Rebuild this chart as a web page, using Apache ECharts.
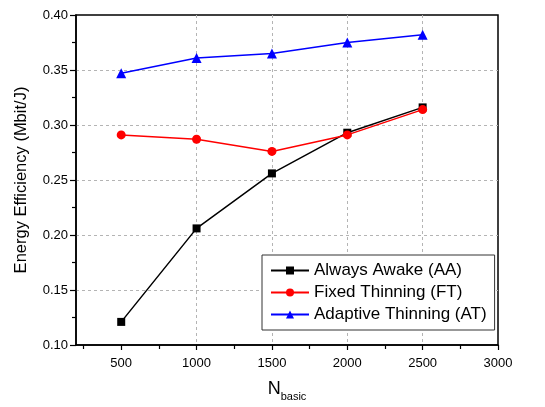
<!DOCTYPE html>
<html>
<head>
<meta charset="utf-8">
<script src="https://cdn.jsdelivr.net/npm/echarts@6/dist/echarts.min.js"></script>
<style>html,body{margin:0;padding:0;background:#fff}#c{width:545px;height:407px}</style>
</head>
<body>
<div id="c"></div>
<script>
const nBasic = [500, 1000, 1500, 2000, 2500];
const alwaysAwake = [0.121, 0.206, 0.256, 0.293, 0.316];
const fixedThinning = [0.291, 0.287, 0.276, 0.291, 0.314];
const adaptiveThinning = [0.347, 0.361, 0.365, 0.375, 0.382];
const xMajorTicks = [500, 1000, 1500, 2000, 2500, 3000];
const xMinorTicks = [250, 750, 1250, 1750, 2250, 2750];
const seriesNames = ['Always Awake (AA)', 'Fixed Thinning (FT)', 'Adaptive Thinning (AT)'];

const font = 'Arial, "Liberation Sans", sans-serif';
const chart = echarts.init(document.getElementById('c'), null, {renderer: 'canvas'});
function pairs(vals) { return nBasic.map((x, i) => [x, vals[i]]); }

chart.setOption({
  animation: false,
  backgroundColor: '#fff',
  textStyle: {fontFamily: font},
  grid: {left: 76, right: 47, top: 15, bottom: 62, show: true, borderColor: '#000', borderWidth: 1.5, backgroundColor: 'transparent'},
  legend: {
    orient: 'vertical', left: 262, top: 255,
    itemWidth: 38, itemHeight: 10, itemGap: 5,
    padding: [7, 8, 7, 8],
    borderColor: '#333', borderWidth: 1, borderRadius: 0,
    backgroundColor: '#fff',
    textStyle: {fontSize: 17, color: '#000', fontFamily: font},
    data: seriesNames
  },
  xAxis: [{
    type: 'value', min: 200, max: 3000,
    name: '{n|N}{s|basic}', nameLocation: 'middle', nameGap: 32,
    nameTextStyle: {rich: {n: {fontSize: 18, color: '#000', fontFamily: font}, s: {fontSize: 11, color: '#000', fontFamily: font, padding: [14, 0, 0, 0]}}},
    axisLine: {show: true, lineStyle: {color: '#000', width: 1.5}},
    axisTick: {show: true, customValues: xMajorTicks, length: 5, lineStyle: {color: '#000', width: 1.2}},
    axisLabel: {customValues: xMajorTicks, fontSize: 13, color: '#000', margin: 12, fontFamily: font, formatter: v => String(v)},
    splitLine: {show: true, showMinLine: false, showMaxLine: false, lineStyle: {color: '#b4b4b4', type: [3, 3], width: 1}}
  }, {
    type: 'value', min: 200, max: 3000, position: 'bottom',
    axisLine: {show: false},
    axisTick: {show: true, customValues: xMinorTicks, length: 4, lineStyle: {color: '#000', width: 1.2}},
    axisLabel: {show: false},
    splitLine: {show: false}
  }],
  yAxis: {
    type: 'value', min: 0.1, max: 0.4, interval: 0.05,
    name: 'Energy Efficiency (Mbit/J)', nameLocation: 'middle', nameGap: 46,
    nameTextStyle: {fontSize: 16.5, color: '#000', fontFamily: font},
    axisLine: {show: true, lineStyle: {color: '#000', width: 1.5}},
    axisTick: {show: true, length: 6, lineStyle: {color: '#000', width: 1.2}},
    minorTick: {show: true, splitNumber: 2, length: 4, lineStyle: {color: '#000', width: 1.2}},
    axisLabel: {fontSize: 13, color: '#000', margin: 8, formatter: v => v.toFixed(2), fontFamily: font},
    splitLine: {show: true, showMinLine: false, showMaxLine: false, lineStyle: {color: '#b4b4b4', type: [3, 3], width: 1}}
  },
  series: [
    {name: seriesNames[0], type: 'line', data: pairs(alwaysAwake), symbol: 'rect', symbolSize: 8,
     itemStyle: {color: '#000'}, lineStyle: {color: '#000', width: 1.5}, z: 3},
    {name: seriesNames[1], type: 'line', data: pairs(fixedThinning), symbol: 'circle', symbolSize: 9,
     itemStyle: {color: '#ff0000'}, lineStyle: {color: '#ff0000', width: 1.5}, z: 4},
    {name: seriesNames[2], type: 'line', data: pairs(adaptiveThinning), symbol: 'triangle', symbolSize: 10,
     itemStyle: {color: '#0000ff'}, lineStyle: {color: '#0000ff', width: 1.5}, z: 5}
  ]
});
</script>
</body>
</html>
